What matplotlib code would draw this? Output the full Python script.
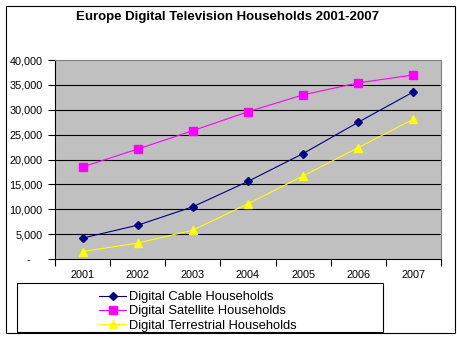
import matplotlib.pyplot as plt
from matplotlib.patches import Rectangle
from matplotlib.ticker import FixedLocator

years = ['2001', '2002', '2003', '2004', '2005', '2006', '2007']
cable = [4200, 6800, 10500, 15600, 21200, 27500, 33600]
satellite = [18500, 22100, 25800, 29600, 33000, 35400, 37000]
terrestrial = [1500, 3200, 5800, 11100, 16700, 22400, 28100]
y_ticks = [0, 5000, 10000, 15000, 20000, 25000, 30000, 35000, 40000]

W, H = 457, 338
plt.rcParams['font.family'] = ['Liberation Sans', 'DejaVu Sans']

fig = plt.figure(figsize=(W / 100, H / 100), dpi=100)
fig.patch.set_facecolor('white')

# outer chart frame
fig.patches.append(Rectangle((6 / W, 5 / H), 449 / W, 327 / H, transform=fig.transFigure,
                             fill=False, edgecolor='black', linewidth=0.8))

ax = fig.add_axes([55 / W, 79 / H, 386 / W, 199 / H])
ax.set_facecolor('#C0C0C0')

x = list(range(len(years)))
ax.plot(x, cable, color='#000080', marker='D', markersize=4.2, linewidth=0.8,
        label='Digital Cable Households', zorder=4)
ax.plot(x, satellite, color='#FF00FF', marker='s', markersize=5.2, linewidth=0.8,
        label='Digital Satellite Households', zorder=4)
ax.plot(x, terrestrial, color='#FFFF00', marker='^', markersize=5.5, linewidth=0.8,
        label='Digital Terrestrial Households', zorder=4)

ax.set_xlim(-0.5, len(years) - 0.5)
ax.set_ylim(0, 40000)

ax.set_xticks(x)
ax.set_xticklabels(years, fontsize=7.8)
ax.xaxis.set_minor_locator(FixedLocator([i - 0.5 for i in range(len(years) + 1)]))
ax.tick_params(axis='x', which='major', length=0, pad=8)
ax.tick_params(axis='x', which='minor', length=5, width=0.8, direction='out')

ax.set_yticks(y_ticks)
ax.set_yticklabels(['-    '] + [f'{v:,}' for v in y_ticks[1:]], fontsize=7.8)
ax.tick_params(axis='y', length=5, width=0.8, direction='out', pad=4)

for v in y_ticks[1:-1]:
    ax.axhline(v, color='black', linewidth=0.8, zorder=1)

for side in ['top', 'right']:
    ax.spines[side].set_color('#808080')
    ax.spines[side].set_linewidth(0.8)
for side in ['left', 'bottom']:
    ax.spines[side].set_color('black')
    ax.spines[side].set_linewidth(0.8)

fig.text(228 / W, 1 - 17 / H, 'Europe Digital Television Households 2001-2007',
         ha='center', va='center', fontsize=9.5, fontweight='bold')

# legend box
fig.patches.append(Rectangle((17 / W, (H - 332) / H), 366 / W, 49 / H, transform=fig.transFigure,
                             fill=False, edgecolor='black', linewidth=0.8))
fig.legend(loc='upper left', bbox_to_anchor=(90 / W, 1 - 282 / H), frameon=False,
           fontsize=9.3, handlelength=2.1, handletextpad=0.2, labelspacing=0.18,
           borderpad=0.2)

fig.savefig('out.png', dpi=100)
